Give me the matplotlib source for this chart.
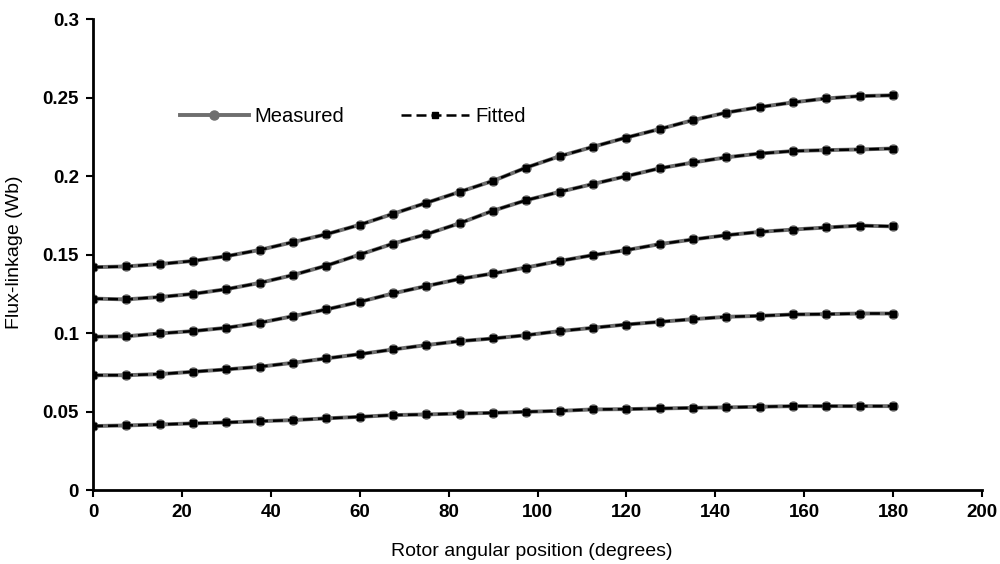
import matplotlib.pyplot as plt

plt.rcParams['font.family'] = ['Liberation Sans', 'DejaVu Sans']

# rotor angle (degrees), one sample every 7.5 deg
angle = [i * 7.5 for i in range(25)]

# flux-linkage (Wb) for five current levels
flux_1 = [0.142, 0.1425, 0.144, 0.146, 0.149, 0.153, 0.158, 0.163, 0.169, 0.176,
          0.183, 0.190, 0.197, 0.2055, 0.2127, 0.2187, 0.2246, 0.230, 0.2357,
          0.2405, 0.244, 0.247, 0.2495, 0.251, 0.2515]
flux_2 = [0.122, 0.1215, 0.123, 0.125, 0.128, 0.132, 0.137, 0.143, 0.150, 0.157,
          0.163, 0.170, 0.178, 0.1847, 0.190, 0.195, 0.200, 0.205, 0.2087,
          0.212, 0.2144, 0.216, 0.2166, 0.217, 0.2176]
flux_3 = [0.0977, 0.098, 0.0998, 0.1013, 0.1034, 0.1066, 0.1108, 0.1151, 0.1199,
          0.1253, 0.130, 0.1345, 0.138, 0.1418, 0.146, 0.1497, 0.1529, 0.1567,
          0.1597, 0.1624, 0.1645, 0.166, 0.1673, 0.1685, 0.168]
flux_4 = [0.0732, 0.0732, 0.0739, 0.0754, 0.0769, 0.0786, 0.0811, 0.0839, 0.0866,
          0.0896, 0.0924, 0.0949, 0.0966, 0.0987, 0.1013, 0.1034, 0.1055, 0.1072,
          0.1089, 0.1104, 0.111, 0.1119, 0.1121, 0.1125, 0.1125]
flux_5 = [0.0408, 0.0412, 0.0418, 0.0425, 0.0431, 0.0439, 0.0446, 0.0457, 0.0467,
          0.0478, 0.0482, 0.0488, 0.0492, 0.0499, 0.0505, 0.0514, 0.0516, 0.052,
          0.0524, 0.0527, 0.0531, 0.0535, 0.0535, 0.0535, 0.0535]

measured = [flux_1, flux_2, flux_3, flux_4, flux_5]
# the fitted curves lie on top of the measured ones in the figure
fitted = [flux_1, flux_2, flux_3, flux_4, flux_5]

fig = plt.figure(figsize=(10, 5.64), dpi=100)
ax = fig.add_axes([0.093, 0.131, 0.889, 0.835])

for i, (m, f) in enumerate(zip(measured, fitted)):
    ax.plot(angle, m, color='#6e6e6e', lw=2.8, marker='o', ms=6.5,
            label='Measured' if i == 0 else None)
    ax.plot(angle, f, color='black', lw=1.8, ls=(0, (4, 2)), marker='s', ms=5,
            label='Fitted' if i == 0 else None)

ax.set_xlim(0, 200)
ax.set_ylim(0, 0.3)
ax.set_xticks(range(0, 201, 20))
ax.set_yticks([0, 0.05, 0.1, 0.15, 0.2, 0.25, 0.3])
ax.set_yticklabels(['0', '0.05', '0.1', '0.15', '0.2', '0.25', '0.3'])
ax.spines['top'].set_visible(False)
ax.spines['right'].set_visible(False)
ax.spines['left'].set_linewidth(2)
ax.spines['bottom'].set_linewidth(2)
ax.tick_params(width=1.5, length=5, labelsize=13.5, pad=5)
for lab in ax.get_xticklabels() + ax.get_yticklabels():
    lab.set_fontweight('bold')

ax.set_xlabel('Rotor angular position (degrees)', fontsize=14)
ax.set_ylabel('Flux-linkage (Wb)', fontsize=14)
ax.xaxis.set_label_coords(0.494, -0.112)
ax.yaxis.set_label_coords(-0.079, 0.505)

ax.legend(loc='center left', bbox_to_anchor=(0.098, 0.793), ncol=2, frameon=False,
          fontsize=14.5, handlelength=3.4, handletextpad=0.3, columnspacing=2.8,
          borderpad=0, borderaxespad=0)

fig.savefig('out.png', dpi=100)
